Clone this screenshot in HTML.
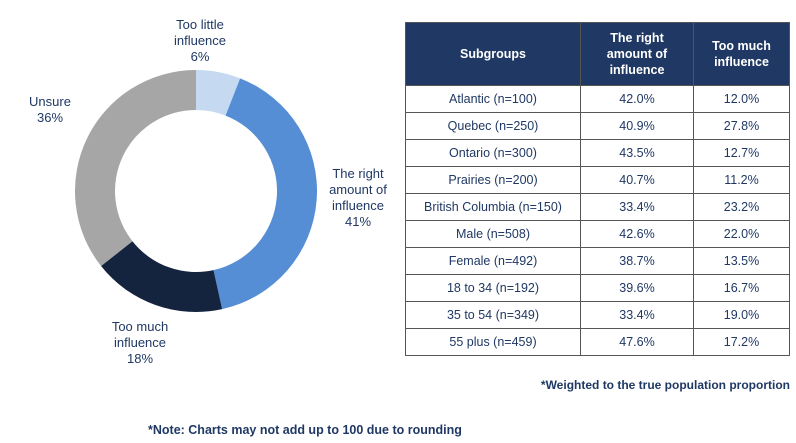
<!DOCTYPE html><html><head><style>
body{margin:0;width:796px;height:443px;background:#fff;font-family:"Liberation Sans",sans-serif;position:relative;overflow:hidden;color:#1f3864}
.l{position:absolute;font-size:13px;line-height:16px;text-align:center;color:#1f3864}
table{position:absolute;left:405px;top:22px;border-collapse:collapse;font-size:12.5px}
td,th{border:1px solid #555;text-align:center;padding:0;height:26px}
th{background:#1f3864;color:#fff;font-weight:bold;height:62px;font-size:12.5px;line-height:16px}
td{color:#1f3864}
</style></head><body>
<svg width="796" height="443" style="position:absolute;left:0;top:0">
<g transform="translate(196,191)" stroke="none">
<path id="p"/>
</g>
</svg>
<script>
var segs=[[6,'#c5d9f1'],[41,'#558ed5'],[18,'#14243f'],[36,'#a6a6a6']];var tot=101,a=0,R=121,r=81,h='';
function pt(rad,ang){return [(rad*Math.sin(ang)).toFixed(2),(-rad*Math.cos(ang)).toFixed(2)]}
segs.forEach(function(s){var a0=a/tot*2*Math.PI;a+=s[0];var a1=a/tot*2*Math.PI;var lg=(a1-a0)>Math.PI?1:0;var p1=pt(R,a0),p2=pt(R,a1),p3=pt(r,a1),p4=pt(r,a0);
h+='<path fill="'+s[1]+'" d="M'+p1+' A'+R+' '+R+' 0 '+lg+' 1 '+p2+' L'+p3+' A'+r+' '+r+' 0 '+lg+' 0 '+p4+' Z"/>'});
document.querySelector('svg g').innerHTML=h;
</script>
<div class="l" style="left:160px;top:17px;width:80px">Too little<br>influence<br>6%</div>
<div class="l" style="left:20px;top:94px;width:60px">Unsure<br>36%</div>
<div class="l" style="left:318px;top:166px;width:80px">The right<br>amount of<br>influence<br>41%</div>
<div class="l" style="left:100px;top:319px;width:80px">Too much<br>influence<br>18%</div>
<table>
<tr><th style="width:174px">Subgroups</th><th style="width:112px">The right<br>amount of<br>influence</th><th style="width:95px">Too much<br>influence</th></tr>
<tr><td>Atlantic (n=100)</td><td>42.0%</td><td>12.0%</td></tr>
<tr><td>Quebec (n=250)</td><td>40.9%</td><td>27.8%</td></tr>
<tr><td>Ontario (n=300)</td><td>43.5%</td><td>12.7%</td></tr>
<tr><td>Prairies (n=200)</td><td>40.7%</td><td>11.2%</td></tr>
<tr><td>British Columbia (n=150)</td><td>33.4%</td><td>23.2%</td></tr>
<tr><td>Male (n=508)</td><td>42.6%</td><td>22.0%</td></tr>
<tr><td>Female (n=492)</td><td>38.7%</td><td>13.5%</td></tr>
<tr><td>18 to 34 (n=192)</td><td>39.6%</td><td>16.7%</td></tr>
<tr><td>35 to 54 (n=349)</td><td>33.4%</td><td>19.0%</td></tr>
<tr><td>55 plus (n=459)</td><td>47.6%</td><td>17.2%</td></tr>
</table>
<div class="l" style="left:500px;top:377px;width:290px;text-align:right;font-weight:bold;font-size:12px;color:#1f3864">*Weighted to the true population proportion</div>
<div class="l" style="left:148px;top:422px;width:400px;text-align:left;font-weight:bold;font-size:12.5px;color:#1f3864">*Note: Charts may not add up to 100 due to rounding</div>
</body></html>
